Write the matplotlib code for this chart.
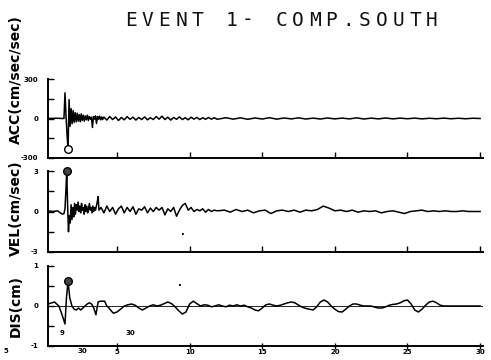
import numpy as np
import matplotlib
matplotlib.use("Agg")
import matplotlib.pyplot as plt

# ---------------- data ----------------
title_text = "EVENT 1- COMP.SOUTH"
panel_labels = ["ACC(cm/sec/sec)", "VEL(cm/sec)", "DIS(cm)"]
panel_limits = [300, 3, 1]
x_ticks = [5, 10, 15, 20, 25, 30]
x_tick_labels = ["5", "10", "15", "20", "25", "30"]

# acceleration (cm/s^2)
acc_pre_t = [0.25, 0.8, 1.3]
acc_pre_v = [0, 2, 0]
acc_on_t0, acc_on_dt = 1.35, 0.07
acc_on_v = [0, 195, 20, -120, -233, 143, -60, 75, -40, 60,
            -30, 45, -25, 40, -20, 30, -25, 35, -15, 25,
            -20, 20, -10, 25, -15, 15, -5, 10, -68, 15,
            -5, 20, -38, 15, -5, 18, -10, 12, -8, 10]
acc_tail1_v = [10, -12, 15, -8, 12, -15, 8, -10, 14, -6,
               10, -12, 8, -8, 12, -10, 6, -8, 15, -5,
               18, -8, 10, -12, 8, -6, 12, -8, 6, -10,
               10, -5, 8, -8, 6, -6, 8, -5, 6, -6]
acc_tail2_v = [6, -5, 5, -6, 4, -4, 6, -5, 4, -3,
               5, -4, 3, -4, 4, -3, 3, -3, 5, -4,
               3, -3, 4, -3, 3, -2, 3, -3, 2, -2,
               3, -2, 2, -2, 2, 0]
acc_peak = (1.63, -233)

# velocity (cm/s)
vel_pre_t = [0.25, 0.6, 0.9, 1.1, 1.25, 1.35]
vel_pre_v = [0.05, 0.0, 0.05, -0.1, -0.2, -0.15]
vel_on_t0, vel_on_dt = 1.42, 0.06
vel_on_v = [0.2, 1.5, 3.0, 0.5, -1.5, -0.3, -0.85, 0.5, -0.6, 0.3,
            -0.4, 0.6, -0.2, 0.5, 0.1, 0.7, 0.0, 0.4, -0.1, 0.6,
            0.1, 0.3, -0.2, 0.5, 0.0, 0.4, -0.1, 0.2, 0.6, 0.1,
            0.3, -0.1, 0.4, 0.0, 0.3, 0.1, 0.4, 0.7, 1.1, 0.1]
vel_tail1_v = [0.3, -0.1, 0.4, 0.0, 0.3, -0.2, 0.2, 0.4, -0.1, 0.3,
               0.0, 0.35, -0.2, 0.2, 0.1, 0.35, -0.1, 0.25, 0.0, 0.3,
               0.1, 0.3, -0.25, 0.2, 0.0, 0.3, -0.35, 0.1, 0.45, 0.6,
               0.1, 0.3, 0.0, 0.15, 0.05, 0.2, -0.05, 0.15, 0.0, 0.1, 0.05]
vel_tail2_v = [0.1, -0.05, 0.15, 0.0, 0.1, -0.1, 0.05, 0.1, -0.15, 0.05,
               0.1, 0.0, 0.1, -0.05, 0.1, 0.05, 0.15, 0.4, 0.25, 0.05,
               0.1, 0.0, 0.1, -0.05, 0.05, 0.0, 0.05, -0.1, 0.0, 0.05,
               -0.05, -0.15, 0.0, 0.05, 0.1, 0.0, 0.05, 0.0, 0.05, 0.0,
               0.0, 0.05, 0.0, 0.0, 0.0]
vel_peak = (1.54, 3.0)

# displacement (cm)
dis_on_t = [0.25, 0.7, 1.0, 1.2, 1.42, 1.52, 1.63, 1.75, 1.9, 2.05,
            2.2, 2.35, 2.5, 2.65, 2.8, 2.95, 3.1, 3.25, 3.4, 3.55,
            3.7, 3.85, 4.0, 4.15, 4.3, 4.45, 4.6, 4.75]
dis_on_v = [0.05, 0.1, 0.0, -0.2, -0.45, 0.2, 0.62, 0.2, 0.0, -0.08,
            -0.1, -0.05, -0.1, -0.05, 0.0, 0.05, 0.08, 0.05, -0.05, -0.22,
            0.1, 0.12, 0.12, 0.12, 0.0, -0.05, -0.12, -0.18]
dis_tail_v = [-0.15, -0.08, 0.0, 0.03, 0.05, 0.02, -0.05, -0.1, -0.05, 0.0,
              0.03, 0.0, 0.02, 0.06, 0.1, 0.06, -0.02, -0.12, -0.2, -0.15,
              0.05, 0.12, 0.06, 0.0, 0.03, 0.02, -0.02, 0.0, 0.03, 0.0,
              -0.02, 0.02, 0.0, 0.03, 0.0, 0.02, -0.02, -0.05, -0.1, -0.12,
              -0.05, 0.03, 0.05, 0.02, 0.0, 0.02, 0.05, 0.08, 0.1, 0.08,
              0.02, -0.03, -0.06, -0.08, -0.1, -0.02, 0.1, 0.15, 0.1, 0.0,
              -0.08, -0.14, -0.15, -0.08, 0.0, 0.05, 0.05, 0.02, 0.0, 0.0,
              0.0, -0.03, -0.05, -0.05, -0.02, 0.02, 0.04, 0.05, 0.08, 0.13,
              0.15, 0.05, -0.1, -0.15, -0.08, 0.02, 0.1, 0.12, 0.08, 0.02,
              0.0, 0.0, 0.0, 0.0, 0.0, 0.0, 0.0, 0.0, 0.0, 0.0, 0.0]
dis_peak = (1.63, 0.62)


def build(pre_t, pre_v, t0, dt, on_v, tails):
    t = list(pre_t)
    v = list(pre_v)
    t += [t0 + i * dt for i in range(len(on_v))]
    v += list(on_v)
    for (a, b, vals) in tails:
        t += list(np.linspace(a, b, len(vals)))
        v += list(vals)
    return np.array(t), np.array(v)


acc_t, acc_v = build(acc_pre_t, acc_pre_v, acc_on_t0, acc_on_dt, acc_on_v,
                     [(4.1, 11.9, acc_tail1_v), (12.5, 30.0, acc_tail2_v)])
vel_t, vel_v = build(vel_pre_t, vel_pre_v, vel_on_t0, vel_on_dt, vel_on_v,
                     [(3.9, 11.9, vel_tail1_v), (12.4, 30.0, vel_tail2_v)])
dis_t = np.array(dis_on_t + list(np.linspace(5.0, 30.0, len(dis_tail_v))))
dis_v = np.array(dis_on_v + dis_tail_v)

# ---------------- figure ----------------
W, H = 491, 360
fig = plt.figure(figsize=(W / 100, H / 100), dpi=100)
fig.patch.set_facecolor("white")

left = 48 / W
right = 483 / W
panels_px = [(79, 158), (171, 252), (266, 346)]  # top, bottom in px

series = [(acc_t, acc_v, acc_peak, "white"),
          (vel_t, vel_v, vel_peak, "#444444"),
          (dis_t, dis_v, dis_peak, "#444444")]

axes = []
for i, ((ytop, ybot), (t, v, pk, fc), lim) in enumerate(zip(panels_px, series, panel_limits)):
    ax = fig.add_axes([left, 1 - ybot / H, right - left, (ybot - ytop) / H])
    ax.set_xlim(0.25, 30.2)
    ax.set_ylim(-lim, lim)
    ax.plot(t, v, color="black", lw=1.1, solid_joinstyle="round")
    if i == 2:
        ax.axhline(0, color="black", lw=0.6)
    ax.plot([pk[0]], [pk[1]], marker="o", ms=5.5, mfc=fc, mec="black",
            mew=1.0, clip_on=False, zorder=5)
    for s in ["top", "right"]:
        ax.spines[s].set_visible(False)
    for s in ["left", "bottom"]:
        ax.spines[s].set_linewidth(1.4)
    ax.set_yticks([-lim, -lim / 2, 0, lim / 2, lim])
    ax.set_yticklabels([("-" + str(lim)), "", "0", "", str(lim)],
                       fontsize=5, fontweight="bold")
    ax.tick_params(axis="y", direction="in", length=4, width=1.0, pad=7)
    ax.set_xticks(x_ticks)
    if i == 2:
        ax.set_xticklabels(x_tick_labels, fontsize=5, fontweight="bold")
        ax.tick_params(axis="x", direction="inout", length=5, width=1.0, pad=0)
    else:
        ax.set_xticklabels([])
        ax.tick_params(axis="x", direction="in", length=4, width=1.0)
    ax.patch.set_alpha(0)
    axes.append(ax)

# stray annotations on the original plot
fig.text(62 / W, 1 - 333 / H, "9", fontsize=5, fontweight="bold", ha="center", va="center")
fig.text(130 / W, 1 - 333 / H, "30", fontsize=5, fontweight="bold", ha="center", va="center")
fig.text(82 / W, 1 - 351 / H, "30", fontsize=5, fontweight="bold", ha="center", va="center")
fig.text(6 / W, 1 - 351 / H, "5", fontsize=5, fontweight="bold", ha="center", va="center")
fig.text(183 / W, 1 - 232 / H, ".", fontsize=7, fontweight="bold", ha="center", va="center")
fig.text(180 / W, 1 - 283 / H, ".", fontsize=7, fontweight="bold", ha="center", va="center")

# y labels
label_pos = [80, 208, 306]
for lab, yc in zip(panel_labels, label_pos):
    fig.text(16 / W, 1 - yc / H, lab, rotation=90, fontsize=10, fontweight="bold",
             ha="center", va="center", family="DejaVu Sans")

# title, spaced characters like the plotter lettering
step = 16.7
x0 = 131
for k, ch in enumerate(title_text):
    fig.text((x0 + k * step) / W, 1 - 20 / H, ch, fontsize=14,
             family="DejaVu Sans Mono", ha="center", va="center", color="#111111")

fig.savefig("out.png", dpi=100, facecolor="white")
